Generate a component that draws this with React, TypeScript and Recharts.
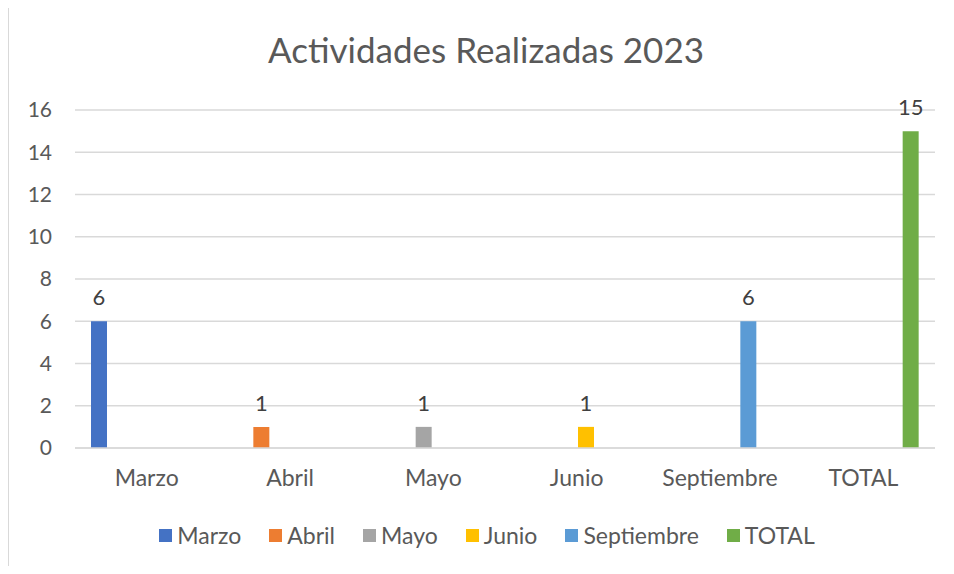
import { Bar, BarChart, CartesianGrid, LabelList, XAxis, YAxis } from "recharts";

const months = ["Marzo", "Abril", "Mayo", "Junio", "Septiembre", "TOTAL"];
const counts = [6, 1, 1, 1, 6, 15];
const colors = ["#4472C4", "#ED7D31", "#A5A5A5", "#FFC000", "#5B9BD5", "#70AD47"];
const yTicks = [0, 2, 4, 6, 8, 10, 12, 14, 16];

const FONT = "Lato, 'Open Sans', sans-serif";
const TEXT = "#595959";

// one row per category; each series only has its own month filled in
const data = months.map((m, i) => {
  const row: Record<string, string | number | null> = { name: m };
  months.forEach((s, j) => {
    row[s] = i === j ? counts[j] : null;
  });
  return row;
});

function ValueLabel(props: any) {
  const { x, y, width, value } = props;
  if (value == null) return null;
  return (
    <text
      x={x + width / 2}
      y={y - 16}
      textAnchor="middle"
      fill="#404040"
      fontSize={22}
      fontFamily={FONT}
    >
      {value}
    </text>
  );
}

export default function App() {
  return (
    <div
      style={{
        position: "relative",
        margin: -8,
        width: 954,
        height: 574,
        background: "#fff",
        fontFamily: FONT,
        overflow: "hidden",
      }}
    >
      <div
        style={{
          position: "absolute",
          top: 28,
          left: 0,
          width: 972,
          textAlign: "center",
          fontSize: 35,
          color: TEXT,
        }}
      >
        Actividades Realizadas 2023
      </div>
      <div style={{ position: "absolute", left: 0, top: 0 }}>
        <BarChart
          width={954}
          height={574}
          data={data}
          margin={{ top: 110, right: 19, bottom: 96, left: 0 }}
          barCategoryGap={16}
          barGap={3}
        >
          <CartesianGrid stroke="#d9d9d9" strokeWidth={1.5} vertical={false} />
          <XAxis
            dataKey="name"
            axisLine={{ stroke: "#d9d9d9", strokeWidth: 1.5 }}
            tickLine={false}
            tickSize={0}
            tickMargin={22}
            height={30}
            tick={{ fill: TEXT, fontSize: 23, fontFamily: FONT }}
          />
          <YAxis
            domain={[0, 16]}
            ticks={yTicks}
            width={75}
            axisLine={false}
            tickLine={false}
            tickSize={0}
            tickMargin={23}
            tick={{ fill: TEXT, fontSize: 21, fontFamily: FONT }}
          />
          {months.map((m, i) => (
            <Bar key={m} dataKey={m} fill={colors[i]} isAnimationActive={false}>
              <LabelList dataKey={m} content={<ValueLabel />} />
            </Bar>
          ))}
        </BarChart>
      </div>
      <div
        style={{
          position: "absolute",
          top: 521,
          left: 0,
          width: 974,
          display: "flex",
          justifyContent: "center",
          gap: 28,
          fontSize: 23,
          color: TEXT,
        }}
      >
        {months.map((m, i) => (
          <span key={m} style={{ display: "flex", alignItems: "center" }}>
            <span
              style={{
                width: 13,
                height: 13,
                background: colors[i],
                marginRight: 5,
                display: "inline-block",
              }}
            />
            {m}
          </span>
        ))}
      </div>
      {/* frame edges visible in the screenshot: top and left only */}
      <div
        style={{
          position: "absolute",
          left: 6,
          top: 4,
          width: 948,
          height: 2,
          background: "#d9d9d9",
        }}
      />
      <div
        style={{
          position: "absolute",
          left: 7,
          top: 4,
          width: 2,
          height: 568,
          background: "#d9d9d9",
        }}
      />
    </div>
  );
}
